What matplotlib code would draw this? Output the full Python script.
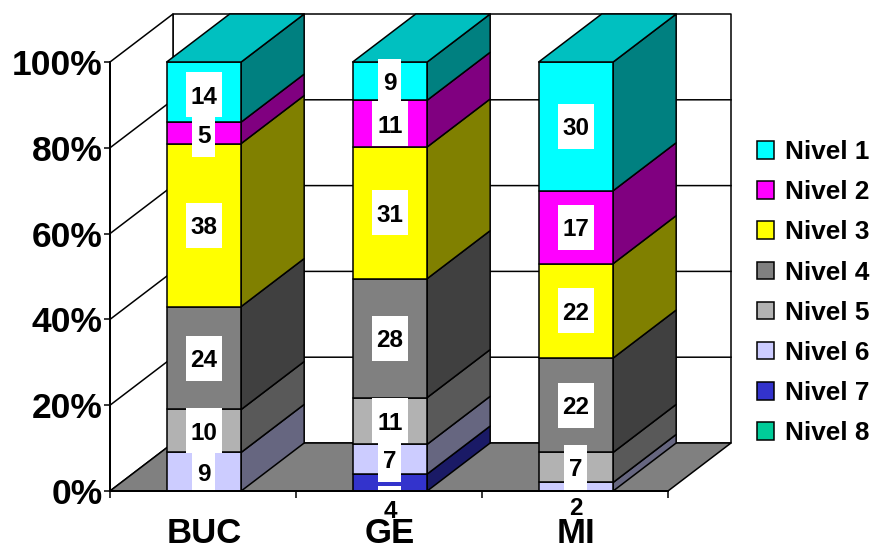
import matplotlib
matplotlib.use('Agg')
import matplotlib.pyplot as plt
import numpy as np
from matplotlib.patches import Polygon, Rectangle, Patch

plt.rcParams.update({"font.family": "Liberation Sans", "font.weight": "bold"})

categories = ['BUC', 'GE', 'MI']
levels = ['Nivel 1', 'Nivel 2', 'Nivel 3', 'Nivel 4', 'Nivel 5', 'Nivel 6', 'Nivel 7', 'Nivel 8']

nivel_1 = [14, 9, 30]
nivel_2 = [5, 11, 17]
nivel_3 = [38, 31, 22]
nivel_4 = [24, 28, 22]
nivel_5 = [10, 11, 7]
nivel_6 = [9, 7, 2]
nivel_7 = [0, 4, 0]
nivel_8 = [0, 0, 0]
series = [nivel_1, nivel_2, nivel_3, nivel_4, nivel_5, nivel_6, nivel_7, nivel_8]

front = ['#00FFFF', '#FF00FF', '#FFFF00', '#808080', '#B2B2B2', '#CCCCFF', '#3333CC', '#00CC99']
side = ['#008080', '#800080', '#808000', '#404040', '#595959', '#666680', '#1A1A66', '#00664D']
top_colors = ['#00C0C0', '#C000C0', '#C0C000', '#606060', '#868686', '#9999C0', '#262699', '#009973']

# figure is laid out in pixels, so these help place things
W, H = 878, 546
X0, X1, Y0, Y1 = 110, 668, 491, 62
px_x = 3 / (X1 - X0)
px_y = 100 / (Y0 - Y1)
dx = 63 * px_x
dy = 48 * px_y
bar_w = 74.5 * px_x
lw = 1.1

fig = plt.figure(figsize=(W / 100, H / 100), dpi=100)
ax = fig.add_axes([X0 / W, 1 - Y0 / H, (X1 - X0) / W, (Y0 - Y1) / H])
ax.set_xlim(0, 3)
ax.set_ylim(0, 100)
ax.patch.set_visible(False)
ax.set_axisbelow(False)


def poly(pts, color, z=1):
    ax.add_patch(Polygon(pts, closed=True, facecolor=color, edgecolor='black', linewidth=lw,
                         joinstyle='round', clip_on=False, zorder=z))


# floor and walls
poly([(0, 0), (3, 0), (3 + dx, dy), (dx, dy)], '#808080', 0.5)
poly([(dx, dy), (3 + dx, dy), (3 + dx, 100 + dy), (dx, 100 + dy)], 'white', 0.4)
poly([(0, 0), (dx, dy), (dx, 100 + dy), (0, 100)], 'white', 0.4)
for g in [20, 40, 60, 80]:
    ax.plot([0, dx, 3 + dx], [g, g + dy, g + dy], color='black', lw=lw, clip_on=False, zorder=0.6)

# stacked bars, bottom level first
for i in range(len(categories)):
    x = i + 0.505 - bar_w / 2
    vals = np.array([s[i] for s in series], dtype=float)
    pct = vals / vals.sum() * 100
    base = 0
    last = None
    for k in range(len(levels) - 1, -1, -1):
        if vals[k] == 0:
            continue
        h = pct[k]
        poly([(x + bar_w, base), (x + bar_w + dx, base + dy), (x + bar_w + dx, base + h + dy), (x + bar_w, base + h)], side[k])
        poly([(x, base), (x + bar_w, base), (x + bar_w, base + h), (x, base + h)], front[k])
        base += h
        last = k
    poly([(x, 100), (x + bar_w, 100), (x + bar_w + dx, 100 + dy), (x + dx, 100 + dy)], top_colors[last])

# small segments get their labels pushed down, offsets in pixels
label_shift = {(0, 0): 2.5, (0, 1): 1.5, (1, 6): 26, (2, 5): 19}

for i in range(len(categories)):
    cx = i + 0.505
    vals = np.array([s[i] for s in series], dtype=float)
    pct = vals / vals.sum() * 100
    base = 0
    for k in range(len(levels) - 1, -1, -1):
        if vals[k] == 0:
            continue
        cy = base + pct[k] / 2 - label_shift.get((i, k), 0) * px_y
        base += pct[k]
        txt = str(series[k][i])
        bw = (36 if len(txt) == 2 else 23) * px_x
        bh = 45 * px_y
        ax.add_patch(Rectangle((cx - bw / 2, cy - bh / 2), bw, bh, facecolor='white', edgecolor='none',
                               clip_on=False, zorder=2))
        ax.text(cx, cy, txt, ha='center', va='center_baseline', fontsize=17.5, color='black',
                clip_on=False, zorder=3)

for name in ['top', 'right']:
    ax.spines[name].set_visible(False)
for name in ['left', 'bottom']:
    ax.spines[name].set_linewidth(lw * 1.3)

ax.set_yticks([0, 20, 40, 60, 80, 100])
ax.set_yticklabels(['0%', '20%', '40%', '60%', '80%', '100%'], fontsize=25.5)
ax.tick_params(axis='y', length=4.5, width=lw, pad=1)
ax.set_xticks([0, 1, 2, 3])
ax.set_xticklabels([])
ax.tick_params(axis='x', which='major', length=5, width=lw)
ax.set_xticks(np.arange(3) + 0.505, labels=categories, minor=True, fontsize=25)
ax.tick_params(axis='x', which='minor', length=0, pad=19)

handles = [Patch(facecolor=c, edgecolor='black', linewidth=lw) for c in front]
fig.legend(handles, levels, loc='upper left', bbox_to_anchor=(757 / W, 1 - 140 / H), frameon=False,
           fontsize=18.8, handlelength=0.65, handleheight=0.65, handletextpad=0.42,
           labelspacing=0.62, borderpad=0, borderaxespad=0)

fig.savefig('out.png', dpi=100)
